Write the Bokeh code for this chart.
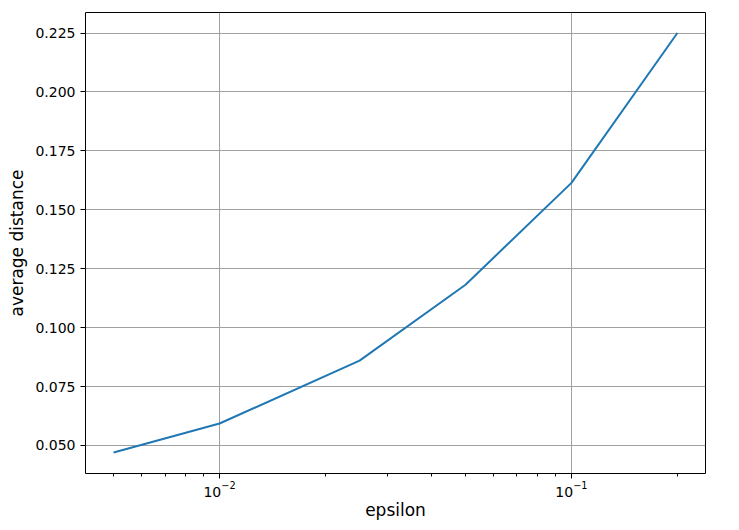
from bokeh.plotting import figure
from bokeh.models import Range1d, FixedTicker, PrintfTickFormatter, LogTickFormatter
from bokeh.embed import file_html
from bokeh.resources import INLINE

epsilon = [0.005, 0.01, 0.025, 0.05, 0.1, 0.2]
avg_distance = [0.047, 0.0593, 0.086, 0.1182, 0.1614, 0.225]
y_ticks = [0.050, 0.075, 0.100, 0.125, 0.150, 0.175, 0.200, 0.225]
x_ticks = [0.01, 0.1]
x_minor = [0.005, 0.006, 0.007, 0.008, 0.009,
           0.02, 0.03, 0.04, 0.05, 0.06, 0.07, 0.08, 0.09, 0.2]

FONT = "DejaVu Sans"

p = figure(width=731, height=522, x_axis_type="log",
           output_backend="svg", toolbar_location=None,
           x_range=Range1d(0.00416, 0.2404), y_range=Range1d(0.0381, 0.2337),
           min_border_left=85, min_border_top=12, min_border_right=26, min_border_bottom=49)

p.line(epsilon, avg_distance, line_color="#1f77b4", line_width=2)

p.xaxis.axis_label = "epsilon"
p.yaxis.axis_label = "average distance"
p.xaxis.ticker = FixedTicker(ticks=x_ticks, minor_ticks=x_minor)
p.xaxis.formatter = LogTickFormatter()
p.yaxis.ticker = FixedTicker(ticks=y_ticks)
p.yaxis.formatter = PrintfTickFormatter(format="%.3f")

for ax in (p.xaxis, p.yaxis):
    ax.axis_label_text_font = FONT
    ax.axis_label_text_font_size = "17px"
    ax.axis_label_text_font_style = "normal"
    ax.axis_label_text_color = "black"
    ax.major_label_text_font = FONT
    ax.major_label_text_font_size = "14px"
    ax.major_label_text_color = "black"
    ax.axis_line_color = None
    ax.major_tick_in = 0
    ax.major_tick_out = 5
    ax.minor_tick_in = 0
    ax.minor_tick_out = 3
    ax.major_tick_line_color = "black"
    ax.minor_tick_line_color = "black"
p.yaxis.minor_tick_line_color = None
p.xaxis.major_label_standoff = 2
p.xaxis.axis_label_standoff = 0

p.xgrid.grid_line_color = "#a0a0a0"
p.ygrid.grid_line_color = "#a0a0a0"
p.xgrid.grid_line_width = 1
p.ygrid.grid_line_width = 1

p.outline_line_color = "black"
p.outline_line_width = 1
p.background_fill_color = "white"
p.border_fill_color = "white"

open("out.html", "w").write(file_html(p, INLINE))
